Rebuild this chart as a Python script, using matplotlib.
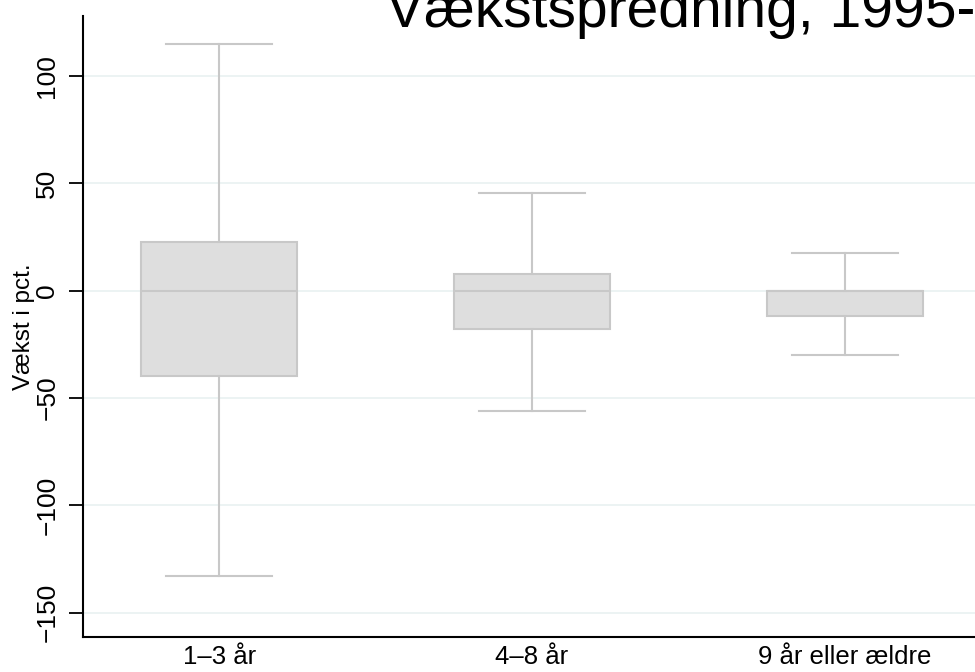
import matplotlib.pyplot as plt

# groups (firm age) and box statistics
groups = ["1–3 år", "4–8 år", "9 år eller ældre"]
whis_hi = [114.8, 45.4, 17.5]
q3 = [22.6, 7.7, 0.0]
median = [0.0, 0.0, 0.0]
q1 = [-39.8, -17.9, -11.9]
whis_lo = [-132.9, -56.1, -30.0]
yticks = [-150, -100, -50, 0, 50, 100]

plt.rcParams['font.family'] = ['Liberation Sans', 'DejaVu Sans']

fig = plt.figure(figsize=(9.75, 6.72), dpi=100)
ax = fig.add_axes([0.0851, 0.0521, 0.921, 0.9241])

stats = []
for i in range(len(groups)):
    stats.append({"med": median[i], "q1": q1[i], "q3": q3[i],
                  "whislo": whis_lo[i], "whishi": whis_hi[i], "fliers": []})

edge = "#c8c8c8"
ax.bxp(stats, positions=[1, 2, 3], widths=0.5, capwidths=0.34,
       showfliers=False, patch_artist=True,
       boxprops=dict(facecolor="#dedede", edgecolor=edge, linewidth=1.5),
       whiskerprops=dict(color=edge, linewidth=1.5),
       capprops=dict(color=edge, linewidth=1.5),
       medianprops=dict(color=edge, linewidth=1.5))

ax.set_xlim(0.565, 3.435)
ax.set_ylim(-161.3, 127.8)
ax.set_yticks(yticks)
ax.set_yticklabels([str(t).replace("-", "\u2212") for t in yticks],
                   rotation=90, va="center", fontsize=19)
ax.set_xticks([1, 2, 3])
ax.set_xticklabels(groups, fontsize=18.5)
ax.tick_params(axis="x", length=0, pad=6)
ax.tick_params(axis="y", length=10, width=1.3, pad=7)

ax.yaxis.grid(True, color="#eaf2f2", linewidth=1.3)
ax.set_axisbelow(True)
for s in ["top", "right"]:
    ax.spines[s].set_visible(False)
for s in ["left", "bottom"]:
    ax.spines[s].set_linewidth(1.5)

fig.text(24 / 975, 1 - 327 / 672, "Vækst i pct.", rotation=90,
         ha="center", va="center", fontsize=17.5)
fig.text(386 / 975, 1 - 27 / 672, "Vækstspredning, 1995-2005",
         ha="left", va="baseline", fontsize=41)

fig.savefig("out.png", dpi=100)
